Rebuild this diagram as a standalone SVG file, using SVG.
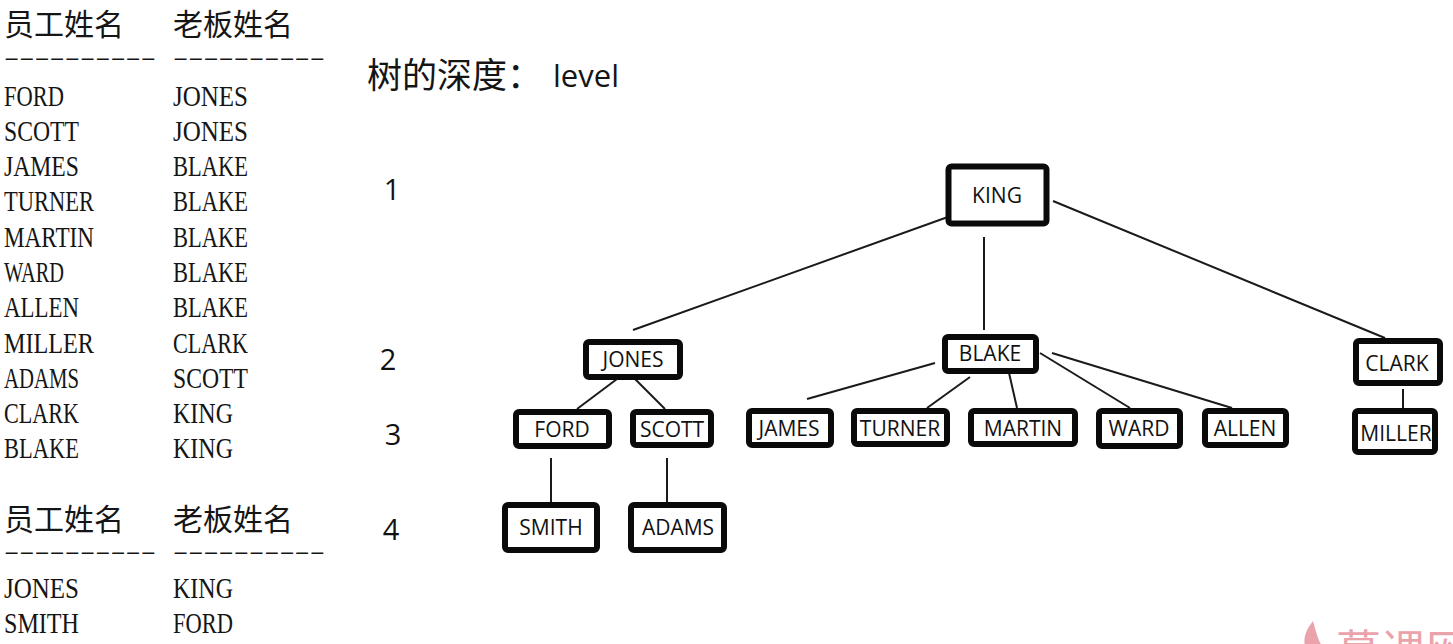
<svg xmlns="http://www.w3.org/2000/svg" width="1453" height="644" viewBox="0 0 1453 644">
<style>
.tbl{font-family:"Liberation Serif","Noto Sans CJK SC",serif;font-size:29px;fill:#151515}
.dash{font-family:"Liberation Serif",serif;font-size:18px;font-weight:bold;fill:#151515}
.hdr{font-family:"Noto Sans CJK SC","Noto Sans",sans-serif;font-size:30px;fill:#151515}
.box{fill:#fff;stroke:#0a0a0a;stroke-width:6}
.lbl{font-family:"Open Sans","Noto Sans",sans-serif;font-size:21px;fill:#111;text-anchor:middle}
.lvl{font-family:"Open Sans","Noto Sans",sans-serif;font-size:29px;fill:#111;text-anchor:middle}
.ln{stroke:#1a1a1a;stroke-width:2;fill:none}
</style>
<rect width="1453" height="644" fill="#fff"/>
<g id="table1">
<text class="hdr" x="4" y="35">员工姓名</text>
<text class="hdr" x="173" y="35">老板姓名</text>
<text class="dash" x="4" y="64" textLength="152" lengthAdjust="spacingAndGlyphs">----------</text>
<text class="dash" x="173" y="64" textLength="152" lengthAdjust="spacingAndGlyphs">----------</text>
<text class="tbl" x="4" y="106" textLength="60" lengthAdjust="spacingAndGlyphs">FORD</text>
<text class="tbl" x="173" y="106" textLength="75" lengthAdjust="spacingAndGlyphs">JONES</text>
<text class="tbl" x="4" y="141" textLength="75" lengthAdjust="spacingAndGlyphs">SCOTT</text>
<text class="tbl" x="173" y="141" textLength="75" lengthAdjust="spacingAndGlyphs">JONES</text>
<text class="tbl" x="4" y="176" textLength="75" lengthAdjust="spacingAndGlyphs">JAMES</text>
<text class="tbl" x="173" y="176" textLength="75" lengthAdjust="spacingAndGlyphs">BLAKE</text>
<text class="tbl" x="4" y="211" textLength="90" lengthAdjust="spacingAndGlyphs">TURNER</text>
<text class="tbl" x="173" y="211" textLength="75" lengthAdjust="spacingAndGlyphs">BLAKE</text>
<text class="tbl" x="4" y="246.5" textLength="90" lengthAdjust="spacingAndGlyphs">MARTIN</text>
<text class="tbl" x="173" y="246.5" textLength="75" lengthAdjust="spacingAndGlyphs">BLAKE</text>
<text class="tbl" x="4" y="282" textLength="60" lengthAdjust="spacingAndGlyphs">WARD</text>
<text class="tbl" x="173" y="282" textLength="75" lengthAdjust="spacingAndGlyphs">BLAKE</text>
<text class="tbl" x="4" y="317" textLength="75" lengthAdjust="spacingAndGlyphs">ALLEN</text>
<text class="tbl" x="173" y="317" textLength="75" lengthAdjust="spacingAndGlyphs">BLAKE</text>
<text class="tbl" x="4" y="352.5" textLength="90" lengthAdjust="spacingAndGlyphs">MILLER</text>
<text class="tbl" x="173" y="352.5" textLength="75" lengthAdjust="spacingAndGlyphs">CLARK</text>
<text class="tbl" x="4" y="387.5" textLength="75" lengthAdjust="spacingAndGlyphs">ADAMS</text>
<text class="tbl" x="173" y="387.5" textLength="75" lengthAdjust="spacingAndGlyphs">SCOTT</text>
<text class="tbl" x="4" y="423" textLength="75" lengthAdjust="spacingAndGlyphs">CLARK</text>
<text class="tbl" x="173" y="423" textLength="60" lengthAdjust="spacingAndGlyphs">KING</text>
<text class="tbl" x="4" y="458" textLength="75" lengthAdjust="spacingAndGlyphs">BLAKE</text>
<text class="tbl" x="173" y="458" textLength="60" lengthAdjust="spacingAndGlyphs">KING</text>
</g>
<g id="table2">
<text class="hdr" x="4" y="530">员工姓名</text>
<text class="hdr" x="173" y="530">老板姓名</text>
<text class="dash" x="4" y="558" textLength="152" lengthAdjust="spacingAndGlyphs">----------</text>
<text class="dash" x="173" y="558" textLength="152" lengthAdjust="spacingAndGlyphs">----------</text>
<text class="tbl" x="4" y="598" textLength="75" lengthAdjust="spacingAndGlyphs">JONES</text>
<text class="tbl" x="173" y="598" textLength="60" lengthAdjust="spacingAndGlyphs">KING</text>
<text class="tbl" x="4" y="633" textLength="75" lengthAdjust="spacingAndGlyphs">SMITH</text>
<text class="tbl" x="173" y="633" textLength="60" lengthAdjust="spacingAndGlyphs">FORD</text>
</g>
<g id="title">
<text x="367" y="88" font-family="'Noto Sans CJK SC','Open Sans',sans-serif" font-size="35" fill="#151515">树的深度：<tspan x="553" y="87" font-family="'Open Sans','Noto Sans',sans-serif" font-size="31">level</tspan></text>
</g>
<g id="levels">
<text class="lvl" x="392" y="200">1</text>
<text class="lvl" x="388" y="370">2</text>
<text class="lvl" x="393" y="445">3</text>
<text class="lvl" x="391" y="540">4</text>
</g>
<g id="connectors">
<line class="ln" x1="633" y1="330" x2="959" y2="213"/>
<line class="ln" x1="984" y1="237" x2="984" y2="330"/>
<line class="ln" x1="1053" y1="201" x2="1385" y2="338"/>
<line class="ln" x1="617" y1="379" x2="577" y2="409"/>
<line class="ln" x1="635" y1="379" x2="665" y2="409"/>
<line class="ln" x1="551" y1="458" x2="551" y2="502"/>
<line class="ln" x1="667" y1="458" x2="667" y2="502"/>
<line class="ln" x1="935" y1="363" x2="807" y2="399"/>
<line class="ln" x1="970" y1="377" x2="927" y2="408"/>
<line class="ln" x1="1007" y1="364" x2="1017" y2="408"/>
<line class="ln" x1="1040" y1="353" x2="1130" y2="408"/>
<line class="ln" x1="1052" y1="353" x2="1232" y2="408"/>
<line class="ln" x1="1403" y1="389" x2="1403" y2="408"/>
</g>
<g id="node-king"><rect class="box" x="948.5" y="166.5" width="98" height="57" rx="3" stroke-width="7"/><text class="lbl" x="997" y="203">KING</text></g>
<g id="node-jones"><rect class="box" x="586" y="342" width="94" height="35" rx="3"/><text class="lbl" x="633" y="367">JONES</text></g>
<g id="node-blake"><rect class="box" x="945" y="337" width="91" height="34" rx="3"/><text class="lbl" x="990" y="361">BLAKE</text></g>
<g id="node-clark"><rect class="box" x="1356" y="341" width="84" height="42" rx="3"/><text class="lbl" x="1397" y="371">CLARK</text></g>
<g id="node-ford"><rect class="box" x="516" y="412" width="93" height="34" rx="3"/><text class="lbl" x="562" y="437">FORD</text></g>
<g id="node-scott"><rect class="box" x="633" y="412" width="78" height="33" rx="3"/><text class="lbl" x="672" y="437">SCOTT</text></g>
<g id="node-james"><rect class="box" x="749" y="411" width="82" height="34" rx="3"/><text class="lbl" x="789" y="436">JAMES</text></g>
<g id="node-turner"><rect class="box" x="854" y="411" width="93" height="33" rx="3"/><text class="lbl" x="900" y="436">TURNER</text></g>
<g id="node-martin"><rect class="box" x="971" y="411" width="104" height="33" rx="3"/><text class="lbl" x="1023" y="436">MARTIN</text></g>
<g id="node-ward"><rect class="box" x="1099" y="411" width="81" height="35" rx="3"/><text class="lbl" x="1139" y="436">WARD</text></g>
<g id="node-allen"><rect class="box" x="1205" y="411" width="81" height="34" rx="3"/><text class="lbl" x="1245" y="436">ALLEN</text></g>
<g id="node-miller"><rect class="box" x="1355" y="411" width="80" height="41" rx="3"/><text class="lbl" x="1396" y="441">MILLER</text></g>
<g id="node-smith"><rect class="box" x="505" y="505" width="92" height="45" rx="3"/><text class="lbl" x="551" y="535">SMITH</text></g>
<g id="node-adams"><rect class="box" x="631" y="505" width="93" height="45" rx="3"/><text class="lbl" x="678" y="535">ADAMS</text></g>
<g id="watermark" fill="#eba3ab">
<path d="M1313 621 C1306 630 1303 638 1305 646 L1322 646 C1318 640 1316 632 1313 621 Z"/>
<text x="1336" y="668" font-family="'Noto Sans CJK SC',sans-serif" font-size="45">慕课网</text>
</g>
</svg>
